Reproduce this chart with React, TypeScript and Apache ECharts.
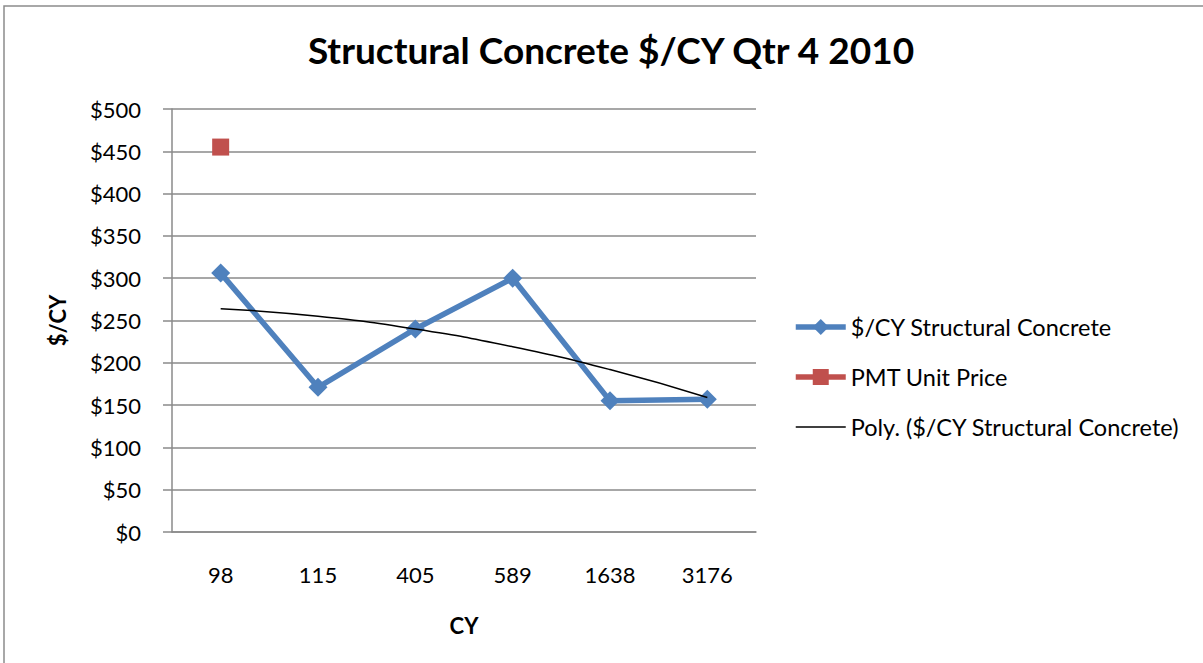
import React, { useEffect, useRef } from "react";
import * as echarts from "echarts";

const categories = ["98", "115", "405", "589", "1638", "3176"];
const concreteValues = [306, 171, 240, 300, 155, 157];
const pmtValues: (number | null)[] = [455, null, null, null, null, null];
const polyValues = [264, 255, 240, 219, 192, 159];
const yTicks = [0, 50, 100, 150, 200, 250, 300, 350, 400, 450, 500];

const FONT = "Lato, 'Open Sans', sans-serif";

export default function App() {
  const ref = useRef<HTMLDivElement>(null);
  useEffect(() => {
    if (!ref.current) return;
    const chart = echarts.init(ref.current, undefined, { renderer: "svg" });
    chart.setOption({
      animation: false,
      backgroundColor: "#fff",
      textStyle: { fontFamily: FONT },
      graphic: [
        {
          type: "rect",
          shape: { x: 4, y: 6, width: 1400, height: 800 },
          style: { fill: "none", stroke: "#8c8c8c", lineWidth: 1.5 },
          silent: true,
          z: -10,
        },
      ],
      title: {
        text: "Structural Concrete $/CY Qtr 4 2010",
        left: 606,
        textAlign: "center",
        top: 26,
        textStyle: { fontFamily: FONT, fontSize: 37, fontWeight: "bold", color: "#000" },
      },
      grid: { left: 172, right: 447, top: 109, bottom: 131 },
      legend: {
        orient: "vertical",
        left: 788,
        top: 310,
        itemWidth: 50,
        itemHeight: 20,
        itemGap: 26,
        textStyle: { fontFamily: FONT, fontSize: 23.5, color: "#000" },
        data: [
          { name: "$/CY Structural Concrete", lineStyle: { width: 5.5 } },
          { name: "PMT Unit Price", lineStyle: { width: 5.5 } },
          { name: "Poly. ($/CY Structural Concrete)", lineStyle: { width: 1.5 } },
        ],
      },
      xAxis: {
        type: "category",
        data: categories,
        boundaryGap: true,
        name: "CY",
        nameLocation: "middle",
        nameGap: 82,
        nameTextStyle: { fontFamily: FONT, fontSize: 22, fontWeight: "bold", color: "#000" },
        axisLine: { show: true, lineStyle: { color: "#8a8a8a", width: 1.5 } },
        axisTick: { show: false },
        axisLabel: { fontFamily: FONT, fontSize: 22, color: "#000", margin: 31 },
      },
      yAxis: {
        type: "value",
        min: yTicks[0],
        max: yTicks[yTicks.length - 1],
        interval: 50,
        name: "$/CY",
        nameLocation: "middle",
        nameGap: 104,
        nameRotate: 90,
        nameTextStyle: { fontFamily: FONT, fontSize: 22, fontWeight: "bold", color: "#000" },
        axisLine: { show: true, lineStyle: { color: "#8a8a8a", width: 1.5 } },
        axisTick: { show: true, inside: false, length: 9, lineStyle: { color: "#8a8a8a", width: 1.5 } },
        splitLine: { show: true, lineStyle: { color: "#8a8a8a", width: 1.5 } },
        axisLabel: {
          fontFamily: FONT,
          fontSize: 22,
          color: "#000",
          margin: 31,
          formatter: (v: number) => "$" + v,
        },
      },
      series: [
        {
          name: "$/CY Structural Concrete",
          type: "line",
          data: concreteValues,
          symbol: "diamond",
          symbolSize: 19,
          itemStyle: { color: "#4F81BD" },
          lineStyle: { color: "#4F81BD", width: 5.5 },
          z: 3,
        },
        {
          name: "PMT Unit Price",
          type: "line",
          data: pmtValues,
          symbol: "rect",
          symbolSize: 17,
          itemStyle: { color: "#C0504D" },
          lineStyle: { color: "#C0504D", width: 5.5 },
          z: 4,
        },
        {
          name: "Poly. ($/CY Structural Concrete)",
          type: "line",
          data: polyValues,
          smooth: true,
          symbol: "none",
          itemStyle: { color: "rgba(0,0,0,0)" },
          lineStyle: { color: "#000", width: 1.5 },
          z: 5,
        },
      ],
    });
    return () => chart.dispose();
  }, []);
  return (
    <div
      ref={ref}
      style={{ position: "fixed", left: 0, top: 0, width: 1203, height: 663 }}
    />
  );
}
